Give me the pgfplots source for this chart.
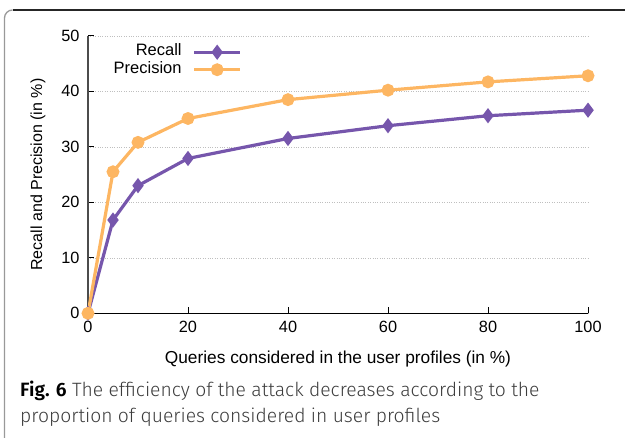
\documentclass[border=0pt]{standalone}
\usepackage{fontspec}
\setmainfont{Liberation Sans}
\newfontfamily\capfont[BoldFont={Fira Sans SemiBold}]{Fira Sans Light}
\usepackage{pgfplots}
\pgfplotsset{compat=1.18}
\definecolor{recallc}{RGB}{118,86,172}
\definecolor{precc}{RGB}{253,182,98}
\definecolor{capgray}{RGB}{60,60,60}

\begin{document}
\begin{tikzpicture}
\useasboundingbox (0,0) rectangle (625bp,438bp);
\draw[gray!80, line width=1.3bp] (4.5bp,0) -- (4.5bp,420bp) arc[start angle=180,end angle=90,radius=8bp];
\draw[black!85, line width=1.3bp] (12.5bp,428bp) -- (625bp,428bp);
\begin{axis}[
  at={(88bp,124.7bp)}, anchor=origin,
  scale only axis, width=500bp, height=277.5bp,
  xmin=0, xmax=100, ymin=0, ymax=50,
  axis x line=bottom, axis y line=left,
  axis line style={-},
  x axis line style={black, line width=1.1bp},
  y axis line style={black!70, line width=1.5bp},
  xtick={0,20,...,100}, ytick={0,10,...,50},
  tick align=inside, major tick length=6bp,
  tick style={black, line width=0.8bp},
  ymajorgrids, grid style={dotted, gray!50, line width=0.6bp},
  /pgf/number format/assume math mode=true,
  tick label style={font=\fontsize{16.3bp}{18bp}\selectfont},
  xticklabel style={yshift=-4.5bp},
  yticklabel style={xshift=-5bp},
  xlabel={Queries considered in the user profiles (in \%)},
  ylabel={Recall and Precision (in \%)},
  xlabel style={font=\fontsize{17.3bp}{19bp}\selectfont, at={(axis description cs:0.5,-0.166)}, anchor=center},
  ylabel style={font=\fontsize{16bp}{18bp}\selectfont, at={(axis description cs:-0.1,0.5)}, anchor=center},
  legend plot pos=right,
  legend cell align=right,
  legend style={at={(axis description cs:0.308,0.965)}, anchor=north east,
    draw=none, fill=none, inner sep=0pt, column sep=0pt, row sep=4.5bp,
    font=\fontsize{16.5bp}{18bp}\selectfont,
    nodes={inner sep=0pt, text height=10bp, text depth=3bp}},
  legend image code/.code={\path (0bp,0bp); \draw[mark repeat=2,mark phase=2] plot coordinates {(11bp,0bp) (34bp,0bp) (57bp,0bp)};},
]
\addplot[recallc, line width=3.2bp, mark=diamond*, mark size=5bp, mark options={solid, fill=recallc}]
  coordinates {(0,0) (5,16.8) (10,23.0) (20,27.9) (40,31.5) (60,33.8) (80,35.6) (100,36.6)};
\addlegendentry{Recall}
\addplot[precc, line width=3.2bp, mark=*, mark size=4.8bp, mark options={solid, fill=precc}]
  coordinates {(0,0) (5,25.5) (10,30.8) (20,35.1) (40,38.5) (60,40.2) (80,41.7) (100,42.8)};
\addlegendentry{Precision}
\end{axis}
\node[anchor=base west, inner sep=0pt, font=\capfont\fontsize{19.3bp}{22bp}\selectfont, text=capgray] at (20bp,41.5bp) {{\bfseries\color{black}Fig. 6} The efficiency of the attack decreases according to the};
\node[anchor=base west, inner sep=0pt, font=\capfont\fontsize{19.3bp}{22bp}\selectfont, text=capgray] at (20bp,15.5bp) {proportion of queries considered in user profiles};
\end{tikzpicture}
\end{document}
